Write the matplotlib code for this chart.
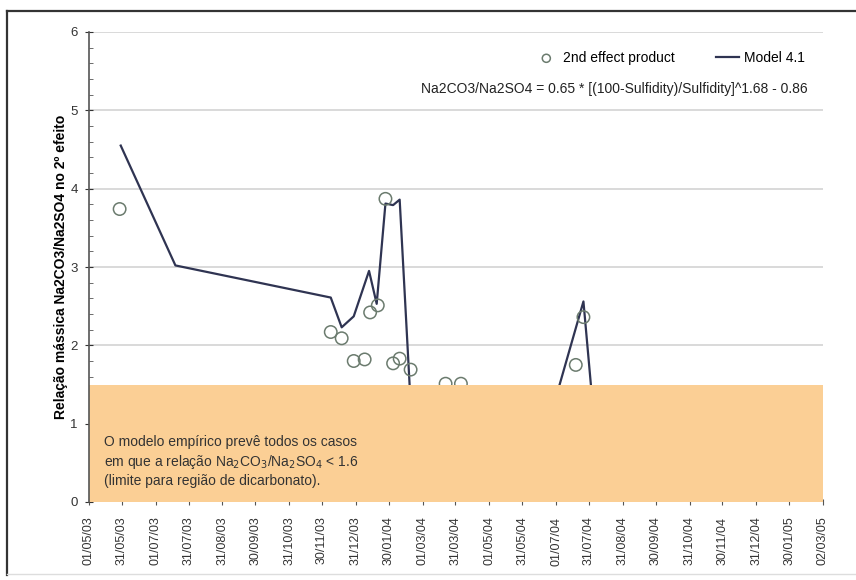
import matplotlib
matplotlib.use('Agg')
import matplotlib.pyplot as plt
import matplotlib.dates as mdates
from matplotlib.lines import Line2D
import pandas as pd

plt.rcParams['font.family'] = ['Liberation Sans', 'DejaVu Sans']

# model 4.1 (points below 1.5 sit under the bicarbonate band)
model_dates = ['2003-05-30', '2003-07-19', '2003-12-08', '2003-12-18', '2003-12-29',
               '2004-01-12', '2004-01-19', '2004-01-27', '2004-02-03', '2004-02-09',
               '2004-02-20', '2004-06-24', '2004-07-26', '2004-08-05']
model_vals = [4.55, 3.02, 2.61, 2.23, 2.37, 2.95, 2.53, 3.81, 3.79, 3.86,
              1.0, 1.0, 2.56, 1.0]

# 2nd effect product measurements
prod_dates = ['2003-05-29', '2003-12-08', '2003-12-18', '2003-12-29', '2004-01-08',
              '2004-01-13', '2004-01-20', '2004-01-27', '2004-02-03', '2004-02-09',
              '2004-02-19', '2004-03-22', '2004-04-05', '2004-07-19', '2004-07-26']
prod_vals = [3.74, 2.17, 2.09, 1.80, 1.82, 2.42, 2.51, 3.87, 1.77, 1.83,
             1.69, 1.51, 1.51, 1.75, 2.36]

tick_labels = ['01/05/03', '31/05/03', '01/07/03', '31/07/03', '31/08/03', '30/09/03',
               '31/10/03', '30/11/03', '31/12/03', '30/01/04', '01/03/04', '31/03/04',
               '01/05/04', '31/05/04', '01/07/04', '31/07/04', '31/08/04', '30/09/04',
               '31/10/04', '30/11/04', '31/12/04', '30/01/05', '02/03/05']

band_top = 1.5

model_x = pd.to_datetime(model_dates)
prod_x = pd.to_datetime(prod_dates)
tick_x = pd.to_datetime(tick_labels, format='%d/%m/%y')

fig = plt.figure(figsize=(8.56, 5.8), dpi=100)
ax = fig.add_axes([89/856, 1-502/580, (823-89)/856, (502-32)/580])

ax.plot(model_x, model_vals, color='#2f3452', lw=1.6, zorder=2, label='Model 4.1')
ax.scatter(prod_x, prod_vals, s=80, facecolors='none', edgecolors='#6b7b6e',
           linewidths=1.1, zorder=2, label='2nd effect product')

# bicarbonate region
ax.axhspan(0, band_top, color='#fbcf95', lw=0, zorder=3)

ax.set_xlim(tick_x[0], tick_x[-1])
ax.set_ylim(0, 6)
ax.set_xticks(tick_x)
ax.set_xticklabels(tick_labels, rotation=90, fontsize=9, color='#333333')
ax.set_yticks(range(0, 7))
ax.set_yticks([i * 0.2 for i in range(31)], minor=True)
ax.tick_params(axis='y', labelsize=9.5, colors='#333333', direction='inout', length=6, pad=5)
ax.tick_params(axis='y', which='minor', direction='in', length=3, color='#555555')
ax.tick_params(axis='x', direction='inout', length=5, pad=8, color='#555555')
for t in ax.get_xticklines():
    t.set_zorder(5)

ax.grid(axis='y', color='#d9d9d9', lw=1.4)
ax.set_axisbelow(True)
for s in ['top', 'right', 'bottom']:
    ax.spines[s].set_visible(False)
ax.spines['left'].set_color('#555555')
ax.spines['left'].set_linewidth(1.2)
ax.spines['left'].set_zorder(4)

ax.set_ylabel('Relação mássica Na2CO3/Na2SO4 no 2º efeito', fontsize=10,
              fontweight='bold', labelpad=2)

h, l = ax.get_legend_handles_labels()
ax.legend([h[1], h[0]], [l[1], l[0]], ncol=2, frameon=False, fontsize=10,
          loc='upper right', bbox_to_anchor=(812/856, 1-44/580),
          bbox_transform=fig.transFigure, handlelength=1.6, columnspacing=3,
          borderpad=0, handletextpad=0.4, markerscale=0.65)

fig.text(808/856, 1-89/580, 'Na2CO3/Na2SO4 = 0.65 * [(100-Sulfidity)/Sulfidity]^1.68 - 0.86',
         ha='right', va='center', fontsize=10, color='#222222')

ax.text(0.02, 0.03,
        'O modelo empírico prevê todos os casos\n'
        'em que a relação Na$_2$CO$_3$/Na$_2$SO$_4$ < 1.6\n'
        '(limite para região de dicarbonato).',
        transform=ax.transAxes, fontsize=10, color='#333333', va='bottom',
        linespacing=1.3, zorder=6)

# outer chart frame
fig.add_artist(Line2D([7/856, 7/856], [1-575/580, 1-11/580], color='#333333', lw=1.6))
fig.add_artist(Line2D([7/856, 1], [1-11/580, 1-11/580], color='#333333', lw=1.6))
fig.add_artist(Line2D([7/856, 1], [1-574/580, 1-574/580], color='#dddddd', lw=1))

fig.savefig('out.png', dpi=100)
